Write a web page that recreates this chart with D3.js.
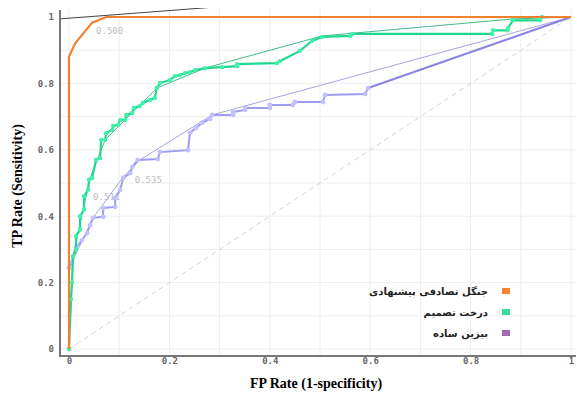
<!DOCTYPE html>
<html>
<head>
<meta charset="utf-8">
<script src="https://cdn.jsdelivr.net/npm/d3@7"></script>
<style>
	body { margin: 0; background: #fff; }
	svg { display: block; }
</style>
</head>
<body>
<div id="chart"></div>
<script>
// legend names (Persian)
const seriesNames = ['جنگل تصادفی پیشنهادی', 'درخت تصمیم', 'بیزین ساده']
const legendColors = ['#f0843a', '#3ddc97', '#a46aae']

// ROC points [fpr, tpr]
const forestRoc = [[0, 0], [0, 0.88], [0.012, 0.92], [0.046, 0.983], [0.074, 1], [1, 1]]

const treeRoc = [
	[0, 0], [0.004, 0.15], [0.006, 0.2], [0.008, 0.28], [0.014, 0.3], [0.014, 0.34], [0.022, 0.36], [0.022, 0.4],
	[0.030, 0.42], [0.030, 0.46], [0.038, 0.48], [0.040, 0.51], [0.046, 0.515], [0.054, 0.57], [0.062, 0.575],
	[0.064, 0.63], [0.072, 0.63], [0.074, 0.65], [0.086, 0.66], [0.088, 0.672], [0.098, 0.675], [0.102, 0.69],
	[0.112, 0.69], [0.114, 0.705], [0.126, 0.711], [0.129, 0.726], [0.141, 0.732], [0.147, 0.741], [0.161, 0.75],
	[0.171, 0.756], [0.175, 0.786], [0.181, 0.801], [0.201, 0.81], [0.211, 0.822], [0.221, 0.825], [0.231, 0.831],
	[0.241, 0.834], [0.251, 0.84], [0.271, 0.846], [0.305, 0.849], [0.335, 0.852], [0.335, 0.858], [0.414, 0.861],
	[0.420, 0.867], [0.460, 0.898], [0.484, 0.928], [0.504, 0.94], [0.560, 0.943], [0.564, 0.949], [0.843, 0.949],
	[0.845, 0.96], [0.873, 0.96], [0.875, 0.967], [0.884, 0.99], [0.938, 0.99], [0.942, 1],
]
const treeHull = [[0, 0], [0.008, 0.28], [0.042, 0.515], [0.072, 0.63], [0.175, 0.786], [0.271, 0.846],
	[0.504, 0.943], [0.884, 0.994], [1, 1]]

const bayesRoc = [
	[0, 0], [0, 0.244], [0.006, 0.262], [0.008, 0.277], [0.016, 0.307], [0.026, 0.328], [0.036, 0.349],
	[0.042, 0.373], [0.048, 0.395], [0.068, 0.398], [0.068, 0.425], [0.092, 0.428], [0.092, 0.455],
	[0.102, 0.479], [0.108, 0.515], [0.122, 0.53], [0.126, 0.548], [0.137, 0.569], [0.177, 0.572],
	[0.181, 0.593], [0.237, 0.599], [0.241, 0.651], [0.253, 0.666], [0.265, 0.681], [0.281, 0.693],
	[0.285, 0.705], [0.327, 0.705], [0.327, 0.714], [0.351, 0.72], [0.351, 0.726], [0.4, 0.726],
	[0.4, 0.735], [0.446, 0.735], [0.45, 0.744], [0.506, 0.744], [0.51, 0.765], [0.59, 0.768], [0.596, 0.786],
]
const bayesTail = [[0.596, 0.786], [1, 1]]
const bayesHull = [[0, 0], [0, 0.244], [0.006, 0.262], [0.048, 0.395], [0.108, 0.518], [0.141, 0.569],
	[0.285, 0.705], [1, 1]]

// iso-performance line through the chosen forest point
const isoLine = [[-0.02, 0.994], [0.3, 1.031]]

// threshold labels [text, fpr, tpr]
const thresholdLabels = [['0.500', 0.054, 0.95], ['0.535', 0.131, 0.5], ['0.511', 0.048, 0.45]]

const tickValues = [0, 0.2, 0.4, 0.6, 0.8, 1]
const gridValues = d3.range(0, 1.001, 0.1)

const W = 577, H = 394
const svg = d3.select('#chart').append('svg').attr('width', W).attr('height', H)

const x = d3.scaleLinear().domain([0, 1]).range([69, 571])
const y = d3.scaleLinear().domain([0, 1]).range([349, 17])

const axisX = 60, axisY = 356, plotTop = 8, plotRight = 576

svg.append('defs').append('clipPath').attr('id', 'plotClip')
	.append('rect').attr('x', axisX).attr('y', plotTop).attr('width', plotRight - axisX).attr('height', axisY - plotTop)

// grid
const grid = svg.append('g').attr('class', 'grid')
grid.selectAll('.vgrid').data(gridValues).enter().append('line')
	.attr('x1', (d) => x(d)).attr('x2', (d) => x(d)).attr('y1', plotTop).attr('y2', axisY)
	.style('stroke', '#eeeeee').style('stroke-width', 1)
grid.selectAll('.hgrid').data(gridValues).enter().append('line')
	.attr('y1', (d) => y(d)).attr('y2', (d) => y(d)).attr('x1', axisX).attr('x2', plotRight)
	.style('stroke', '#eeeeee').style('stroke-width', 1)

const line = d3.line().x((d) => x(d[0])).y((d) => y(d[1]))
const plot = svg.append('g').attr('clip-path', 'url(#plotClip)')

// chance diagonal
plot.append('path').attr('d', line([[0, 0], [1, 1]]))
	.style('fill', 'none').style('stroke', '#d4d4d4').style('stroke-width', 1).style('stroke-dasharray', '5,4')

// threshold labels (under the curves)
plot.selectAll('.thr').data(thresholdLabels).enter().append('text')
	.attr('x', (d) => x(d[1])).attr('y', (d) => y(d[2]))
	.style('font-family', 'DejaVu Sans Mono, monospace').style('font-size', '9px').style('fill', '#bdbdbd')
	.text((d) => d[0])

// hulls
plot.append('path').attr('d', line(bayesHull))
	.style('fill', 'none').style('stroke', '#a9a2e0').style('stroke-width', 1)
plot.append('path').attr('d', line(treeHull))
	.style('fill', 'none').style('stroke', '#47b88a').style('stroke-width', 1)

// naive bayes
plot.append('path').attr('d', line(bayesTail))
	.style('fill', 'none').style('stroke', '#8a84e6').style('stroke-width', 2.2)
plot.append('path').attr('d', line(bayesRoc))
	.style('fill', 'none').style('stroke', '#9e9cf0').style('stroke-width', 2)
plot.selectAll('.bdot').data(bayesRoc).enter().append('circle')
	.attr('cx', (d) => x(d[0])).attr('cy', (d) => y(d[1])).attr('r', 2.4)
	.style('fill', '#c2c0ff')

// decision tree
plot.append('path').attr('d', line(treeRoc))
	.style('fill', 'none').style('stroke', '#1fd890').style('stroke-width', 2.2)
plot.selectAll('.tdot').data(treeRoc).enter().append('circle')
	.attr('cx', (d) => x(d[0])).attr('cy', (d) => y(d[1])).attr('r', 2.2)
	.style('fill', '#3ff2a8')

// random forest
plot.append('path').attr('d', line(forestRoc))
	.style('fill', 'none').style('stroke', '#f0822e').style('stroke-width', 2.2)

// iso line
plot.append('path').attr('d', line(isoLine))
	.style('fill', 'none').style('stroke', '#444').style('stroke-width', 1)

// axes
const tickFmt = d3.format('~g')
const yAxis = svg.append('g').attr('transform', `translate(${axisX},0)`)
	.call(d3.axisLeft(y).tickValues(tickValues).tickSize(0).tickPadding(6).tickFormat(tickFmt))
const xAxis = svg.append('g').attr('transform', `translate(0,${axisY})`)
	.call(d3.axisBottom(x).tickValues(tickValues).tickSize(0).tickPadding(2).tickFormat(tickFmt))
;[yAxis, xAxis].forEach((a) => {
	a.select('.domain').remove()
	a.selectAll('text').style('font-family', 'DejaVu Sans Mono, monospace').style('font-size', '9px')
		.style('font-weight', 'bold').style('fill', '#666')
})
svg.append('line').attr('x1', axisX).attr('x2', axisX).attr('y1', 10).attr('y2', axisY + 1)
	.style('stroke', '#777').style('stroke-width', 2)
svg.append('line').attr('x1', axisX - 1).attr('x2', plotRight).attr('y1', axisY).attr('y2', axisY)
	.style('stroke', '#777').style('stroke-width', 2)

// axis titles
svg.append('text').attr('transform', 'translate(22,186) rotate(-90)').attr('text-anchor', 'middle')
	.style('font-family', 'Liberation Serif, serif').style('font-weight', 'bold').style('font-size', '14px')
	.text('TP Rate (Sensitivity)')
svg.append('text').attr('x', 316).attr('y', 388).attr('text-anchor', 'middle')
	.style('font-family', 'Liberation Serif, serif').style('font-weight', 'bold').style('font-size', '14px')
	.text('FP Rate (1-specificity)')

// legend
const legend = svg.append('g').attr('transform', 'translate(0,291)')
const items = legend.selectAll('.item').data(seriesNames).enter().append('g')
	.attr('transform', (d, i) => `translate(0,${i * 21})`)
items.append('rect').attr('x', 502).attr('y', -3).attr('width', 8).attr('height', 6)
	.style('fill', (d, i) => legendColors[i])
items.append('text').attr('x', 488).attr('y', 0).attr('dy', '0.35em').attr('text-anchor', 'end')
	.style('font-family', 'DejaVu Sans, sans-serif').style('font-weight', 'bold').style('font-size', '10px')
	.style('fill', '#222')
	.text((d) => d)
</script>
</body>
</html>
